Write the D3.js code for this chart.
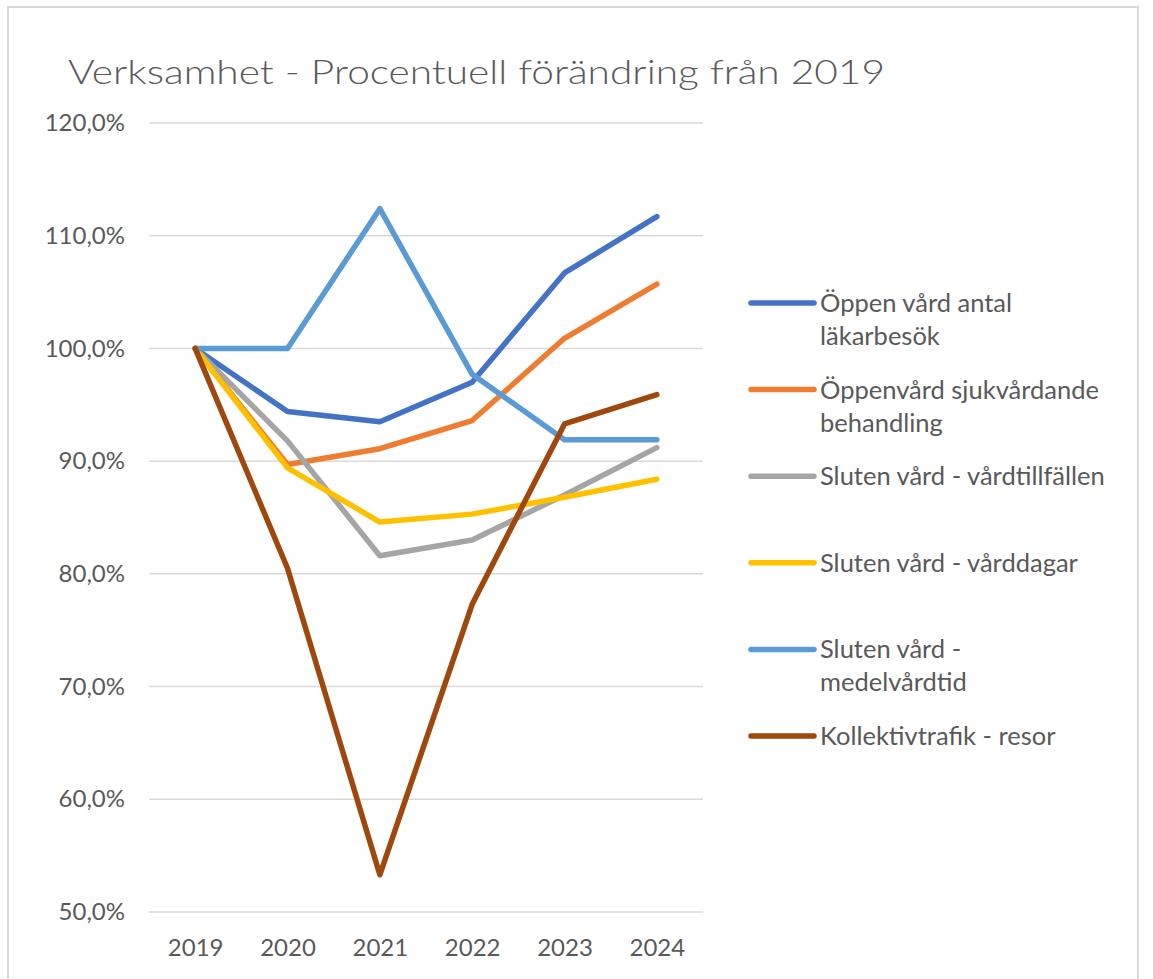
<!DOCTYPE html>
<html>
<head>
<meta charset="utf-8">
<script src="https://cdn.jsdelivr.net/npm/d3@7"></script>
<style>
  body { margin: 0; background: #fff; }
  text { font-family: Lato, "Open Sans", sans-serif; fill: #595959; }
</style>
</head>
<body>
<svg id="chart" width="1153" height="979"></svg>
<script>
// data
const years = ['2019', '2020', '2021', '2022', '2023', '2024']
const yTicks = [50, 60, 70, 80, 90, 100, 110, 120]

const seriesNames = [
  ['Öppen vård antal', 'läkarbesök'],
  ['Öppenvård sjukvårdande', 'behandling'],
  ['Sluten vård - vårdtillfällen'],
  ['Sluten vård - vårddagar'],
  ['Sluten vård -', 'medelvårdtid'],
  ['Kollektivtrafik - resor']
]
const seriesColors = ['#4472C4', '#ED7D31', '#A5A5A5', '#FFC000', '#5B9BD5', '#9E480E']

const oppenLakar   = [100, 94.4, 93.5, 97.0, 106.7, 111.7]
const oppenSjuk    = [100, 89.7, 91.1, 93.6, 100.9, 105.7]
const slutenTillf  = [100, 91.8, 81.6, 83.0, 87.0, 91.2]
const slutenDagar  = [100, 89.4, 84.6, 85.3, 86.8, 88.4]
const slutenMedel  = [100, 100.0, 112.4, 97.7, 91.9, 91.9]
const kollektiv    = [100, 80.5, 53.3, 77.3, 93.3, 95.9]

const seriesValues = [oppenLakar, oppenSjuk, slutenTillf, slutenDagar, slutenMedel, kollektiv]

const svg = d3.select('#chart')

// frame
svg.append('rect')
  .attr('x', 8).attr('y', 7)
  .attr('width', 1130).attr('height', 1000)
  .attr('fill', '#fff')
  .attr('stroke', '#d9d9d9')
  .attr('stroke-width', 2)

// title
svg.append('text')
  .attr('x', 68).attr('y', 84)
  .style('font-size', '34px')
  .style('font-weight', 300)
  .attr('textLength', 817)
  .attr('lengthAdjust', 'spacingAndGlyphs')
  .text('Verksamhet - Procentuell förändring från 2019')

// scales
const x = d3.scalePoint()
  .domain(years)
  .range([149, 703])
  .padding(0.5)

const y = d3.scaleLinear()
  .domain([50, 120])
  .range([912, 123])

// gridlines
svg.append('g').selectAll('line').data(yTicks)
  .join('line')
  .attr('x1', 149).attr('x2', 703)
  .attr('y1', d => y(d)).attr('y2', d => y(d))
  .attr('stroke', '#d9d9d9')
  .attr('stroke-width', 1.5)

// y axis
const fmt = d => d3.format('.1f')(d).replace('.', ',') + '%'
const yAxis = svg.append('g')
  .attr('transform', 'translate(134,0)')
  .call(d3.axisLeft(y).tickValues(yTicks).tickFormat(fmt).tickSize(0).tickPadding(9))
yAxis.select('.domain').remove()
yAxis.selectAll('text')
  .style('font-size', '24px')
  .style('font-family', 'Lato, sans-serif')
  .attr('fill', '#595959')

// x axis
const xAxis = svg.append('g')
  .attr('transform', 'translate(0,912)')
  .call(d3.axisBottom(x).tickSize(0).tickPadding(27))
xAxis.select('.domain').remove()
xAxis.selectAll('text')
  .style('font-size', '24px')
  .style('font-family', 'Lato, sans-serif')
  .attr('fill', '#595959')

// lines
const line = d3.line()
  .x((d, i) => x(years[i]))
  .y(d => y(d))

svg.append('g').selectAll('path').data(seriesValues)
  .join('path')
  .attr('d', line)
  .attr('fill', 'none')
  .attr('stroke', (d, i) => seriesColors[i])
  .attr('stroke-width', 5.5)
  .attr('stroke-linejoin', 'round')
  .attr('stroke-linecap', 'round')

// legend
const legendTop = 303, legendStep = 86.6
const leg = svg.append('g').selectAll('g').data(seriesNames)
  .join('g')
  .attr('transform', (d, i) => `translate(0,${legendTop + i * legendStep})`)

leg.append('line')
  .attr('x1', 751).attr('x2', 814)
  .attr('y1', 0).attr('y2', 0)
  .attr('stroke', (d, i) => seriesColors[i])
  .attr('stroke-width', 5.5)
  .attr('stroke-linecap', 'round')

leg.append('text')
  .attr('x', 820)
  .attr('y', 9)
  .style('font-size', '25.5px')
  .selectAll('tspan').data(d => d)
  .join('tspan')
  .attr('x', 820)
  .attr('dy', (d, i) => i === 0 ? 0 : 33)
  .text(d => d)
</script>
</body>
</html>
